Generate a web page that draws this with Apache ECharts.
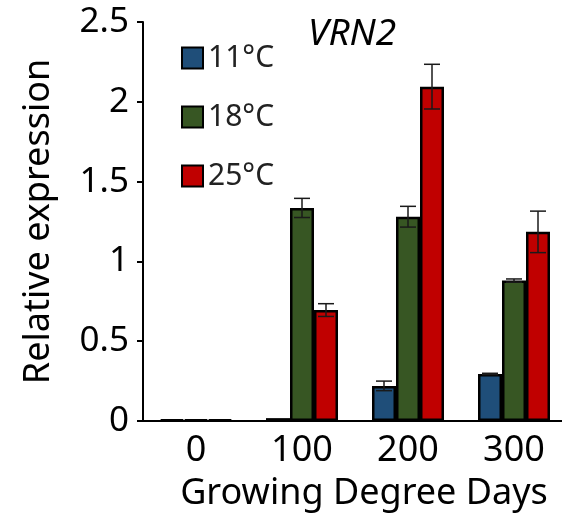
<!DOCTYPE html>
<html>
<head>
<meta charset="utf-8">
<script src="https://cdn.jsdelivr.net/npm/echarts@6/dist/echarts.min.js"></script>
<style>
html, body { margin: 0; padding: 0; background: #fff; }
#chart { width: 562px; height: 515px; }
</style>
</head>
<body>
<div id="chart"></div>
<script>
var categories = ['0', '100', '200', '300'];
var seriesNames = ['11°C', '18°C', '25°C'];
var mean11 = [0.008, 0.018, 0.22, 0.295];
var mean18 = [0.008, 1.335, 1.28, 0.88];
var mean25 = [0.008, 0.695, 2.095, 1.185];
var err11 = [0, 0, 0.03, 0.004];
var err18 = [0, 0.06, 0.065, 0.01];
var err25 = [0, 0.04, 0.14, 0.13];
var colors = ['#1f4e79', '#375623', '#c00000'];

var chart = echarts.init(document.getElementById('chart'));
var font = 'Noto Sans';
var barW = 24;

var means = [mean11, mean18, mean25];
var errs = [err11, err18, err25];

function errorBars(k) {
    var data = means[k].map(function(m, i) {
        return [i, m, errs[k][i]];
    });
    return {
        type: 'custom',
        name: 'err' + k,
        z: 5,
        silent: true,
        encode: { x: 0, y: 1 },
        data: data,
        renderItem: function(params, api) {
            var i = api.value(0);
            var m = api.value(1);
            var e = api.value(2);
            if (!e) return null;
            var x = api.coord([i, m])[0] + (k - 1) * barW;
            var top = api.coord([i, m + e])[1];
            var bot = api.coord([i, m - e])[1];
            var st = { stroke: '#1a1a1a', lineWidth: 1.5 };
            return {
                type: 'group',
                children: [
                    { type: 'line', shape: { x1: x, y1: top, x2: x, y2: bot }, style: st },
                    { type: 'line', shape: { x1: x - 8, y1: top, x2: x + 8, y2: top }, style: st },
                    { type: 'line', shape: { x1: x - 8, y1: bot, x2: x + 8, y2: bot }, style: st }
                ]
            };
        }
    };
}

var series = [];
seriesNames.forEach(function(name, k) {
    series.push({
        name: name,
        type: 'bar',
        barWidth: barW,
        barGap: '0%',
        data: means[k],
        itemStyle: { color: colors[k], borderColor: '#000', borderWidth: 2.5 }
    });
});
seriesNames.forEach(function(name, k) {
    series.push(errorBars(k));
});

var option = {
    animation: false,
    title: {
        text: 'VRN2',
        left: 303,
        top: 11,
        textStyle: { fontFamily: font, fontStyle: 'italic', fontWeight: 'normal', fontSize: 37, color: '#000' }
    },
    legend: {
        data: seriesNames,
        orient: 'vertical',
        left: 176,
        top: 37,
        icon: 'rect',
        itemWidth: 21,
        itemHeight: 21,
        itemGap: 27,
        textStyle: { fontFamily: font, fontSize: 30, color: '#222', lineHeight: 32 }
    },
    grid: { left: 143, top: 22, width: 424, bottom: 94, outerBoundsMode: 'none', containLabel: false },
    xAxis: {
        type: 'category',
        data: categories,
        name: 'Growing Degree Days',
        nameLocation: 'middle',
        nameGap: 55,
        nameTextStyle: { fontFamily: font, fontSize: 36, color: '#000', padding: [0, 0, 0, 18] },
        axisLine: { lineStyle: { color: '#000', width: 2 } },
        axisTick: { length: 10, lineStyle: { color: '#000', width: 2 } },
        axisLabel: { fontFamily: font, fontSize: 36, color: '#000', margin: 12 }
    },
    yAxis: {
        type: 'value',
        min: 0,
        max: 2.5,
        interval: 0.5,
        name: 'Relative expression',
        nameLocation: 'middle',
        nameGap: 86,
        nameTextStyle: { fontFamily: font, fontSize: 36, color: '#000' },
        axisLine: { show: true, lineStyle: { color: '#000', width: 2 } },
        axisTick: { show: true, length: 6, lineStyle: { color: '#000', width: 2 } },
        splitLine: { show: false },
        axisLabel: { fontFamily: font, fontSize: 35, color: '#000', margin: 14 }
    },
    series: series
};
chart.setOption(option);
</script>
</body>
</html>
